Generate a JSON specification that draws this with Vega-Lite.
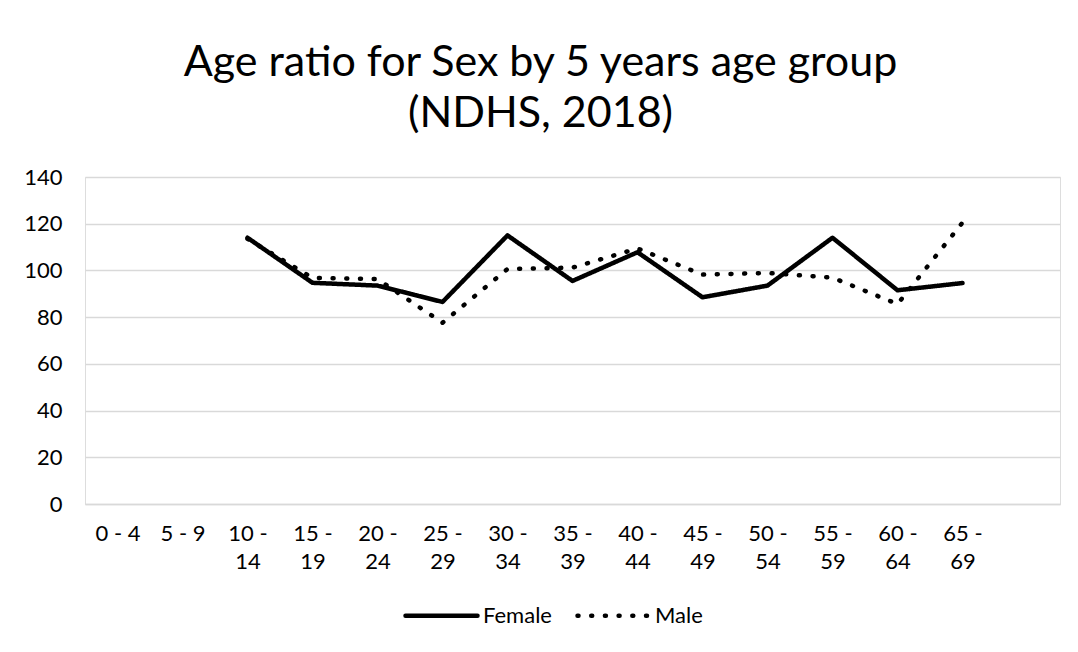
{
  "$schema": "https://vega.github.io/schema/vega-lite/v6.json",
  "width": 975,
  "height": 327,
  "autosize": {"type": "none"},
  "padding": {"left": 85, "top": 177, "right": 18, "bottom": 148},
  "background": "white",
  "title": {
    "text": ["Age ratio for Sex by 5 years age group", "(NDHS, 2018)"],
    "font": "Lato",
    "fontSize": 43,
    "fontWeight": "normal",
    "color": "#000000",
    "lineHeight": 51,
    "offset": 30,
    "dx": -32,
    "anchor": "middle"
  },
  "data": {
    "values": [
      {"age": "10 - 14", "sex": "Female", "ratio": 114},
      {"age": "15 - 19", "sex": "Female", "ratio": 94.7},
      {"age": "20 - 24", "sex": "Female", "ratio": 93.5},
      {"age": "25 - 29", "sex": "Female", "ratio": 86.5},
      {"age": "30 - 34", "sex": "Female", "ratio": 115},
      {"age": "35 - 39", "sex": "Female", "ratio": 95.5},
      {"age": "40 - 44", "sex": "Female", "ratio": 107.8},
      {"age": "45 - 49", "sex": "Female", "ratio": 88.5},
      {"age": "50 - 54", "sex": "Female", "ratio": 93.5},
      {"age": "55 - 59", "sex": "Female", "ratio": 114},
      {"age": "60 - 64", "sex": "Female", "ratio": 91.5},
      {"age": "65 - 69", "sex": "Female", "ratio": 94.6},
      {"age": "10 - 14", "sex": "Male", "ratio": 113.5},
      {"age": "15 - 19", "sex": "Male", "ratio": 96.8},
      {"age": "20 - 24", "sex": "Male", "ratio": 96.3},
      {"age": "25 - 29", "sex": "Male", "ratio": 77.6},
      {"age": "30 - 34", "sex": "Male", "ratio": 100.6},
      {"age": "35 - 39", "sex": "Male", "ratio": 101.2},
      {"age": "40 - 44", "sex": "Male", "ratio": 109.4},
      {"age": "45 - 49", "sex": "Male", "ratio": 98.2},
      {"age": "50 - 54", "sex": "Male", "ratio": 98.9},
      {"age": "55 - 59", "sex": "Male", "ratio": 96.9},
      {"age": "60 - 64", "sex": "Male", "ratio": 85.6},
      {"age": "65 - 69", "sex": "Male", "ratio": 120.5}
    ]
  },
  "mark": {
    "type": "line",
    "strokeWidth": 4.5,
    "strokeCap": "round",
    "strokeJoin": "round",
    "color": "#000000"
  },
  "encoding": {
    "x": {
      "field": "age",
      "type": "ordinal",
      "sort": null,
      "scale": {
        "type": "point",
        "padding": 0.5,
        "domain": ["0 - 4", "5 - 9", "10 - 14", "15 - 19", "20 - 24", "25 - 29", "30 - 34", "35 - 39", "40 - 44", "45 - 49", "50 - 54", "55 - 59", "60 - 64", "65 - 69", " "]
      },
      "axis": {
        "title": null,
        "labelAngle": 0,
        "domain": true,
        "domainColor": "#d9d9d9",
        "domainWidth": 1.3,
        "ticks": false,
        "grid": false,
        "labelPadding": 19,
        "labelFont": "Lato",
        "labelFontSize": 22,
        "labelColor": "#000000",
        "labelLineHeight": 28,
        "labelBaseline": "top",
        "labelExpr": "length(datum.label) > 5 ? [slice(datum.label, 0, 4), slice(datum.label, 5)] : datum.label"
      }
    },
    "y": {
      "field": "ratio",
      "type": "quantitative",
      "scale": {"domain": [0, 140], "nice": false},
      "axis": {
        "title": null,
        "values": [0, 20, 40, 60, 80, 100, 120, 140],
        "domain": false,
        "ticks": false,
        "grid": true,
        "gridColor": "#d9d9d9",
        "gridWidth": 1.3,
        "labelPadding": 23,
        "labelFont": "Lato",
        "labelFontSize": 22,
        "labelColor": "#000000"
      }
    },
    "strokeDash": {
      "field": "sex",
      "type": "nominal",
      "scale": {"domain": ["Female", "Male"], "range": [[1, 0], [1, 12.7]]},
      "legend": {
        "title": null,
        "orient": "none",
        "legendX": 318,
        "legendY": 400,
        "padding": 0,
        "direction": "horizontal",
        "symbolType": "stroke",
        "symbolSize": 5184,
        "symbolStrokeWidth": 4.5,
        "symbolStrokeColor": "#000000",
        "labelFont": "Lato",
        "labelFontSize": 22,
        "labelColor": "#000000",
        "labelOffset": 3,
        "columnPadding": 16,
        "encode": {"symbols": {"update": {"strokeCap": {"value": "round"}}}}
      }
    }
  }
}
